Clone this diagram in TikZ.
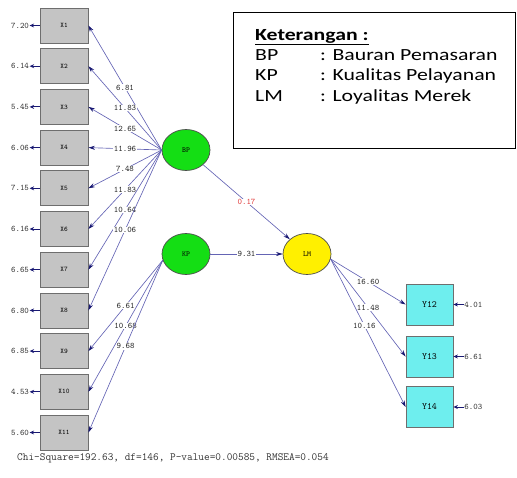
\documentclass[tikz,border=0pt]{standalone}
\usepackage{fontspec}
\newfontfamily\legfont{Carlito}
\usetikzlibrary{shapes.geometric,arrows.meta}
\definecolor{boxgray}{RGB}{196,196,196}
\definecolor{boxedge}{RGB}{110,110,110}
\definecolor{latgreen}{RGB}{20,222,20}
\definecolor{latyellow}{RGB}{255,240,0}
\definecolor{obscyan}{RGB}{110,238,238}
\definecolor{linecol}{RGB}{100,100,180}
\definecolor{headcol}{RGB}{25,25,115}
\definecolor{valred}{RGB}{225,60,60}
\tikzset{
  xbox/.style={rectangle,draw=boxedge,line width=0.8pt,fill=boxgray,minimum width=48pt,minimum height=35pt,inner sep=0pt,font=\fontsize{7}{8}\ttfamily},
  ybox/.style={rectangle,draw=boxedge,line width=0.8pt,fill=obscyan,minimum width=47pt,minimum height=41pt,inner sep=0pt,font=\fontsize{9.5}{10}\ttfamily},
  latent/.style={ellipse,draw=black!70,line width=0.7pt,minimum width=48pt,minimum height=41pt,inner sep=0pt,font=\fontsize{7.5}{8}\ttfamily},
  conn/.style={draw=linecol,line width=0.65pt,-{Stealth[length=6.5pt,width=4pt,color=headcol]}},
  errarr/.style={draw=headcol,line width=0.9pt,-{Stealth[length=4.5pt,width=4pt,color=headcol]}},
  val/.style={font=\fontsize{8.5}{9}\ttfamily,text=black!85,inner sep=0.6pt,fill=white},
  errval/.style={font=\fontsize{8.5}{9}\ttfamily,text=black!80,inner sep=0.5pt},
  leg/.style={font=\fontsize{17}{20}\legfont,inner sep=0pt,anchor=base west},
}
\newcommand{\legstretch}[1]{\scalebox{1.28}[1]{#1}}
\begin{document}
\begin{tikzpicture}[x=1pt,y=-1pt]
\useasboundingbox (0,0) rectangle (517,477);
% X indicators
\foreach \i/\e in {1/7.20,2/6.14,3/5.45,4/6.06,5/7.15,6/6.16,7/6.65,8/6.80,9/6.85,10/4.53,11/5.60}{
  \pgfmathsetmacro{\yy}{25.5+40.7*(\i-1)}
  \node[xbox] (x\i) at (64,\yy) {X\i};
  \node[errval] (ex\i) at (20,\yy) {\e};
  \draw[errarr] (x\i.west) -- (ex\i.east);
}
% latent variables
\node[latent,fill=latgreen] (BP) at (186,150) {BP};
\node[latent,fill=latgreen] (KP) at (186,254) {KP};
\node[latent,fill=latyellow] (LM) at (307,254) {LM};
% Y indicators
\node[ybox] (y12) at (429.5,304.5) {Y12};
\node[ybox] (y13) at (429.5,356.5) {Y13};
\node[ybox] (y14) at (429.5,407) {Y14};
\foreach \n/\e in {12/4.01,13/6.61,14/6.03}{
  \node[errval] (ey\n) at ([xshift=20pt]y\n.east) {\e};
  \draw[errarr] (ey\n.west) -- (y\n.east);
}
% BP loadings
\coordinate (bpo) at (BP.west);
\foreach \i/\l in {1/6.81,2/11.83,3/12.65,4/11.96,5/7.48,6/11.83,7/10.64,8/10.06}{
  \draw[conn] (bpo) -- node[val,pos=0.5] {\l} (x\i.east);
}
% KP loadings
\coordinate (kpo) at (KP.195);
\foreach \i/\l in {9/6.61,10/10.68,11/9.68}{
  \draw[conn] (kpo) -- node[val,pos=0.5] {\l} (x\i.east);
}
% structural paths
\draw[conn] (BP) -- node[val,text=valred] {0.17} (LM);
\draw[conn] (KP.east) -- node[val] {9.31} (LM.west);
% LM loadings
\coordinate (lmo) at (LM.-12);
\draw[conn] (lmo) -- node[val,pos=0.5] {16.60} (y12.west);
\draw[conn] (lmo) -- node[val,pos=0.5] {11.48} (y13.west);
\draw[conn] (lmo) -- node[val,pos=0.45] {10.16} (y14.west);
% fit statistics
\node[font=\fontsize{11}{12}\ttfamily,text=black!80,anchor=west,inner sep=0pt] (fit) at (17,458) {Chi-Square=192.63, df=146, P-value=0.00585, RMSEA=0.054};
% legend
\node[draw=black,line width=1pt,minimum width=282pt,minimum height=136pt,anchor=north west,inner sep=0pt] (legbox) at (233,12) {};
\node[leg] (legt) at (255,40) {\legstretch{\textbf{\underline{Keterangan :}}}};
\node[leg] (lbp) at (255,60) {\legstretch{BP}};
\node[leg] (lbpt) at (320,60) {\legstretch{: Bauran Pemasaran}};
\node[leg] (lkp) at (255,80) {\legstretch{KP}};
\node[leg] (lkpt) at (320,80) {\legstretch{: Kualitas Pelayanan}};
\node[leg] (llm) at (255,101) {\legstretch{LM}};
\node[leg] (llmt) at (320,101) {\legstretch{: Loyalitas Merek}};
\end{tikzpicture}
\end{document}
